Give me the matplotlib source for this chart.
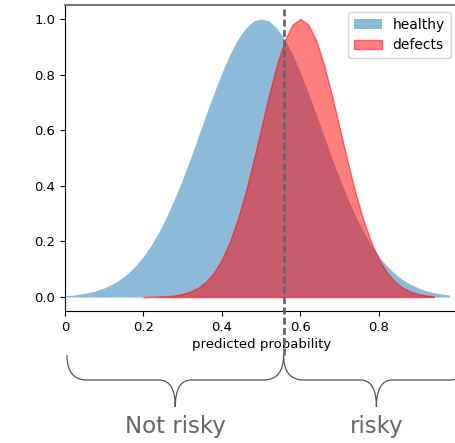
"""Predicted probability distributions: healthy vs defects, with risk threshold."""
import matplotlib
matplotlib.use("Agg")
import matplotlib.pyplot as plt
import matplotlib.transforms as mtransforms
import numpy as np
from matplotlib.path import Path
from matplotlib.patches import PathPatch

# ── data ──
healthy_x = np.round(np.arange(0.0, 0.981, 0.02), 2)
healthy_y = [0.005, 0.007, 0.011, 0.016, 0.023, 0.033, 0.046, 0.063, 0.085, 0.112,
             0.146, 0.187, 0.236, 0.292, 0.356, 0.425, 0.500, 0.579, 0.658, 0.735,
             0.807, 0.872, 0.926, 0.966, 0.992, 1.000, 0.992, 0.966, 0.926, 0.872,
             0.807, 0.735, 0.658, 0.579, 0.500, 0.425, 0.356, 0.292, 0.236, 0.187,
             0.146, 0.112, 0.085, 0.063, 0.046, 0.033, 0.023, 0.016, 0.011, 0.007]

defects_x = np.round(np.arange(0.20, 0.941, 0.02), 2)
defects_y = [0.000, 0.001, 0.002, 0.003, 0.006, 0.011, 0.020, 0.034, 0.056, 0.089,
             0.135, 0.198, 0.278, 0.375, 0.487, 0.607, 0.726, 0.835, 0.923, 0.980,
             1.000, 0.980, 0.923, 0.835, 0.726, 0.607, 0.487, 0.375, 0.278, 0.198,
             0.135, 0.089, 0.056, 0.034, 0.020, 0.011, 0.006, 0.003]

threshold = 0.557
xticks = [0, 0.2, 0.4, 0.6, 0.8, 1]
xtick_labels = ["0", "0.2", "0.4", "0.6", "0.8", "1"]
group_labels = ["Not risky", "risky"]

FS = 9.5
plt.rcParams["font.size"] = FS


def brace(ax, fig, x0, x1, y_top, y_mid, y_tip, r_end, r_tip):
    """Curly brace under the axes: x in data units, y in figure fraction."""
    tr = mtransforms.blended_transform_factory(ax.transData, fig.transFigure)
    xm = 0.5 * (x0 + x1)
    verts = [(x0, y_top), (x0, y_mid), (x0 + r_end, y_mid),
             (xm - r_tip, y_mid),
             (xm, y_mid), (xm, y_tip),
             (xm, y_mid), (xm + r_tip, y_mid),
             (x1 - r_end, y_mid),
             (x1, y_mid), (x1, y_top)]
    codes = [Path.MOVETO, Path.CURVE3, Path.CURVE3,
             Path.LINETO,
             Path.CURVE3, Path.CURVE3,
             Path.CURVE3, Path.CURVE3,
             Path.LINETO,
             Path.CURVE3, Path.CURVE3]
    patch = PathPatch(Path(verts, codes), transform=tr, fill=False,
                      edgecolor="#555555", lw=0.9, clip_on=False)
    ax.add_patch(patch)
    return xm


def main() -> None:
    fig = plt.figure(figsize=(4.56, 4.43), dpi=100)
    ax = fig.add_axes([0.1425, 0.298, 0.8607, 0.6907])

    ax.fill_between(healthy_x, healthy_y, color="tab:blue", alpha=0.5,
                    lw=0, label="healthy")
    ax.fill_between(defects_x, defects_y, color="red", alpha=0.5,
                    lw=1, label="defects")

    ax.set_xlim(0, 1)
    ax.set_ylim(-0.05, 1.05)
    ax.set_xticks(xticks)
    ax.set_xticklabels(xtick_labels)
    ax.set_xlabel("predicted probability", fontsize=FS, labelpad=3)
    ax.tick_params(labelsize=FS)
    ax.spines["top"].set_color("#777777")
    ax.spines["top"].set_linewidth(1.5)
    ax.spines["right"].set_visible(False)

    ax.plot([threshold, threshold], [-0.21, 1.04], color="#666666", lw=2,
            ls=(0, (2.5, 1.2)), clip_on=False, zorder=5)

    ax.legend(loc="upper right", fontsize=10)

    # ── braces + group labels ──
    y_top, y_mid, y_tip = 0.1986, 0.1422, 0.0813
    px = 1 / 392.5  # data units per pixel
    centers = [
        brace(ax, fig, 0.005, threshold, y_top, y_mid, y_tip, 20 * px, 16 * px),
        brace(ax, fig, threshold, 1.03, y_top, y_mid, y_tip, 20 * px, 16 * px),
    ]
    tr = mtransforms.blended_transform_factory(ax.transData, fig.transFigure)
    for xc, lab in zip(centers, group_labels):
        ax.text(xc, 0.038, lab, transform=tr, ha="center", va="center",
                fontsize=16.5, color="#666666", clip_on=False)

    fig.savefig("out.png", dpi=100)
    plt.close(fig)


if __name__ == "__main__":
    main()
